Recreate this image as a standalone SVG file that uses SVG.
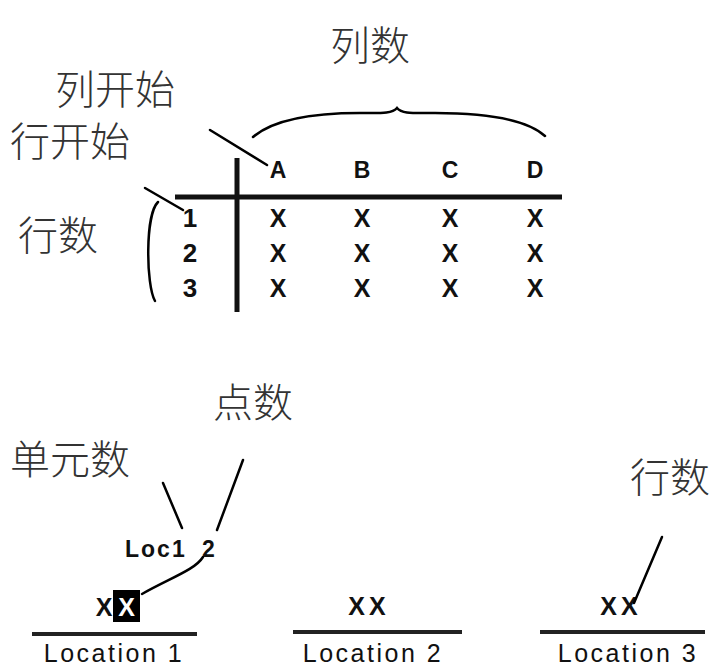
<svg xmlns="http://www.w3.org/2000/svg" width="720" height="666" viewBox="0 0 720 666">
<style>
.cjk{font-family:"Noto Sans CJK SC","Noto Sans",sans-serif;font-size:40px;fill:#333;font-weight:300}
.hd{font-family:"Liberation Sans",Arial,sans-serif;font-weight:bold;font-size:23px;fill:#111;text-anchor:middle}
.num{font-family:"Liberation Sans",Arial,sans-serif;font-weight:bold;font-size:26px;fill:#111;text-anchor:middle}
.x{font-family:"Liberation Sans",Arial,sans-serif;font-weight:bold;font-size:25px;fill:#111;text-anchor:middle}
.loc{font-family:"Liberation Sans",Arial,sans-serif;font-size:25px;letter-spacing:2.5px;fill:#111;text-anchor:middle}
.lc{font-family:"Liberation Sans",Arial,sans-serif;font-weight:bold;font-size:23px;letter-spacing:2px;fill:#111}
.ln{stroke:#000;fill:none;stroke-width:2.5;stroke-linecap:round}
.thick{stroke:#111;stroke-width:5;fill:none}
.base{stroke:#222;stroke-width:4;fill:none}
</style>
<rect width="720" height="666" fill="#fff"/>
<g id="label-cols"><text class="cjk" x="370" y="60" text-anchor="middle">列数</text></g>
<g id="label-colstart"><text class="cjk" x="55" y="104" font-size="39">列开始</text></g>
<g id="label-rowstart"><text class="cjk" x="10" y="156" font-size="39">行开始</text></g>
<g id="label-rows"><text class="cjk" x="18" y="250">行数</text></g>
<g id="table">
<line class="thick" x1="175" y1="197" x2="562" y2="197"/>
<line class="thick" x1="237" y1="158" x2="237" y2="312"/>
<text class="hd" x="278" y="178">A</text>
<text class="hd" x="362" y="178">B</text>
<text class="hd" x="450" y="178">C</text>
<text class="hd" x="535" y="178">D</text>
<text class="num" x="190" y="227">1</text>
<text class="num" x="190" y="262">2</text>
<text class="num" x="190" y="297">3</text>
<g class="x">
<text x="278" y="227">X</text><text x="362" y="227">X</text><text x="450" y="227">X</text><text x="535" y="227">X</text>
<text x="278" y="262">X</text><text x="362" y="262">X</text><text x="450" y="262">X</text><text x="535" y="262">X</text>
<text x="278" y="297">X</text><text x="362" y="297">X</text><text x="450" y="297">X</text><text x="535" y="297">X</text>
</g>
</g>
<g id="label-points"><text class="cjk" x="213" y="417">点数</text></g>
<g id="label-units"><text class="cjk" x="10" y="474">单元数</text></g>
<g id="label-rows2"><text class="cjk" x="630" y="492">行数</text></g>
<g id="loc-label"><text class="lc" x="125" y="557">Loc1</text><text class="lc" x="202" y="557">2</text></g>
<g id="location1">
<text class="x" x="104" y="616" font-size="18">X</text>
<rect x="113" y="590" width="27" height="32" fill="#000"/>
<text class="x" x="126.5" y="616" style="fill:#fff">X</text>
<line class="base" x1="32" y1="634" x2="197" y2="634"/>
<text class="loc" x="114" y="662">Location 1</text>
</g>
<g id="location2">
<text class="x" x="369" y="615" font-size="21" letter-spacing="4">XX</text>
<line class="base" x1="293" y1="632" x2="462" y2="632"/>
<text class="loc" x="373" y="662">Location 2</text>
</g>
<g id="location3">
<text class="x" x="621" y="615" font-size="21" letter-spacing="4">XX</text>
<line class="base" x1="540" y1="632" x2="705" y2="632"/>
<text class="loc" x="628" y="662">Location 3</text>
</g>
<g id="connectors">
<path class="ln" d="M253,137 C275,118 320,113 360,113 C380,113 392,114 397,108 C402,114 412,113 435,113 C480,113 525,118 545,136"/>
<line class="ln" x1="210" y1="130" x2="267" y2="165"/>
<line class="ln" x1="145" y1="188" x2="183" y2="210"/>
<path class="ln" d="M158,202 C145,215 146,285 155,301"/>
<line class="ln" x1="163" y1="483" x2="182" y2="528"/>
<line class="ln" x1="243" y1="460" x2="217" y2="530"/>
<path class="ln" d="M203,557 C195,570 170,578 142,594"/>
<line class="ln" x1="662" y1="537" x2="634" y2="603"/>
</g>
</svg>
